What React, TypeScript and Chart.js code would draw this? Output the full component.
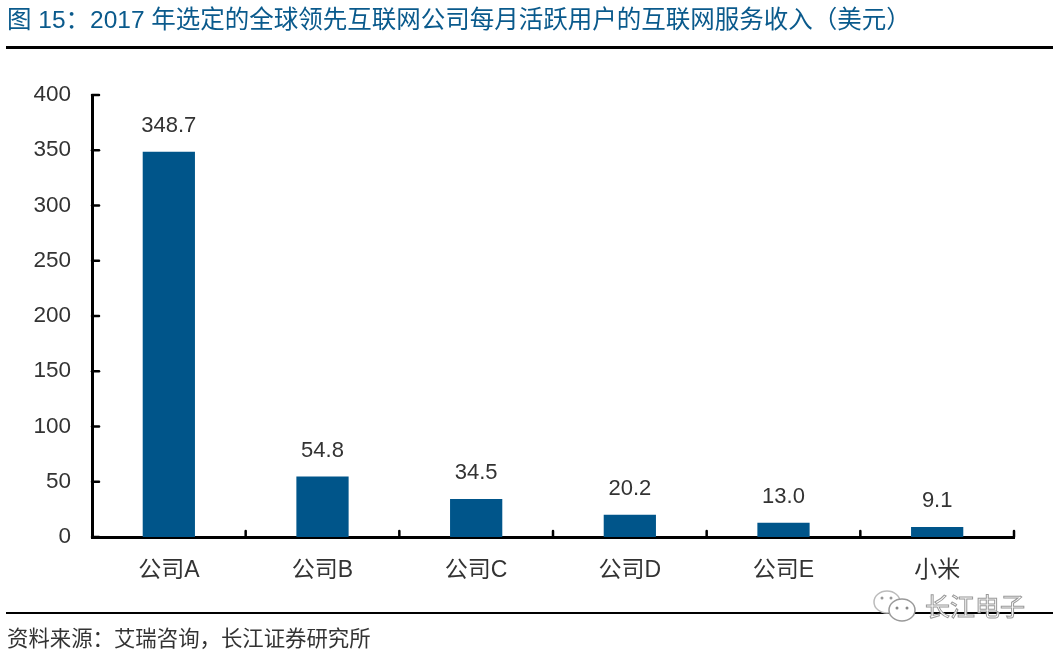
import React, { useEffect, useRef } from "react";
import { Chart, registerables } from "chart.js";

Chart.register(...registerables);

const categories = ["公司A", "公司B", "公司C", "公司D", "公司E", "小米"];
const revenue = [348.7, 54.8, 34.5, 20.2, 13.0, 9.1];
const valueLabels = ["348.7", "54.8", "34.5", "20.2", "13.0", "9.1"];
const titleText = "图 15：2017 年选定的全球领先互联网公司每月活跃用户的互联网服务收入（美元）";
const sourceText = "资料来源：艾瑞咨询，长江证券研究所";
const watermarkText = "长江电子";

const FONT = '"Liberation Sans", "Noto Sans CJK SC", sans-serif';

const inwardTicks = {
  id: "inwardTicks",
  afterDraw(chart: any) {
    const { ctx, scales, chartArea } = chart;
    ctx.save();
    ctx.strokeStyle = "#000";
    ctx.lineWidth = 2.5;
    ctx.lineCap = "round";
    scales.y.ticks.forEach((t: any) => {
      const y = scales.y.getPixelForValue(t.value);
      ctx.beginPath();
      ctx.moveTo(chartArea.left, y);
      ctx.lineTo(chartArea.left + 7, y);
      ctx.stroke();
    });
    const step = scales.x.width / categories.length;
    categories.forEach((_, i) => {
      const x = scales.x.getPixelForValue(i) + step / 2;
      ctx.beginPath();
      ctx.moveTo(x, chartArea.bottom);
      ctx.lineTo(x, chartArea.bottom - 6);
      ctx.stroke();
    });
    ctx.restore();
  },
};

const barValueLabels = {
  id: "barValueLabels",
  afterDatasetsDraw(chart: any) {
    const { ctx } = chart;
    const meta = chart.getDatasetMeta(0);
    ctx.save();
    ctx.font = `22px ${FONT}`;
    ctx.fillStyle = "#333";
    ctx.textAlign = "center";
    ctx.textBaseline = "middle";
    meta.data.forEach((bar: any, i: number) => {
      ctx.fillText(valueLabels[i], bar.x, bar.y - 26);
    });
    ctx.restore();
  },
};

export default function App() {
  const ref = useRef<HTMLCanvasElement>(null);
  useEffect(() => {
    const chart = new Chart(ref.current!, {
      type: "bar",
      data: {
        labels: categories,
        datasets: [
          {
            data: revenue,
            backgroundColor: "#00558A",
            barPercentage: 1,
            categoryPercentage: 0.34,
          },
        ],
      },
      options: {
        animation: false,
        responsive: false,
        devicePixelRatio: 1,
        layout: { padding: { top: 95, right: 46, left: 0, bottom: 0 } },
        plugins: { legend: { display: false }, title: { display: false }, tooltip: { enabled: false } },
        scales: {
          x: {
            grid: { display: false },
            border: { color: "#000", width: 3 },
            ticks: { color: "#333", font: { size: 23, family: FONT }, padding: 12, maxRotation: 0 },
            afterFit: (s: any) => { s.height = 117; },
          },
          y: {
            min: 0,
            max: 400,
            grid: { display: false },
            border: { color: "#000", width: 3 },
            ticks: { stepSize: 50, color: "#333", font: { size: 22.5, family: FONT }, padding: 13 },
            afterFit: (s: any) => { s.width = 92; },
          },
        },
      },
      plugins: [inwardTicks, barValueLabels],
    } as any);
    return () => chart.destroy();
  }, []);

  return (
    <div style={{ position: "absolute", left: 0, top: 0, width: 1060, height: 654, background: "#fff", overflow: "hidden", fontFamily: FONT }}>
      <canvas ref={ref} width={1060} height={654} style={{ position: "absolute", left: 0, top: 0 }} />
      <div style={{ position: "absolute", left: 7, top: 4, fontSize: 24.5, lineHeight: "32px", color: "#0A5A8C", whiteSpace: "nowrap" }}>{titleText}</div>
      <div style={{ position: "absolute", left: 6, top: 46, width: 1047, height: 3, background: "#000" }} />
      <div style={{ position: "absolute", left: 6, top: 612, width: 1047, height: 2, background: "#000" }} />
      <div style={{ position: "absolute", left: 7, top: 624, fontSize: 21.4, lineHeight: "30px", color: "#333", whiteSpace: "nowrap" }}>{sourceText}</div>
      <svg style={{ position: "absolute", left: 872, top: 588 }} width="46" height="38" viewBox="0 0 46 38">
        <ellipse cx="15" cy="14" rx="13" ry="11" fill="#fff" stroke="#bbb" strokeWidth="1.5" />
        <ellipse cx="30" cy="22" rx="13" ry="11" fill="#fff" stroke="#999" strokeWidth="1.5" />
        <circle cx="10" cy="10" r="1.5" fill="#999" />
        <circle cx="19" cy="10" r="1.5" fill="#999" />
        <circle cx="25" cy="20" r="1.5" fill="#888" />
        <circle cx="35" cy="20" r="1.5" fill="#888" />
      </svg>
      <div style={{ position: "absolute", left: 925, top: 590, fontSize: 25, lineHeight: "34px", color: "#fff", WebkitTextStroke: "1px #999", whiteSpace: "nowrap" }}>{watermarkText}</div>
    </div>
  );
}
